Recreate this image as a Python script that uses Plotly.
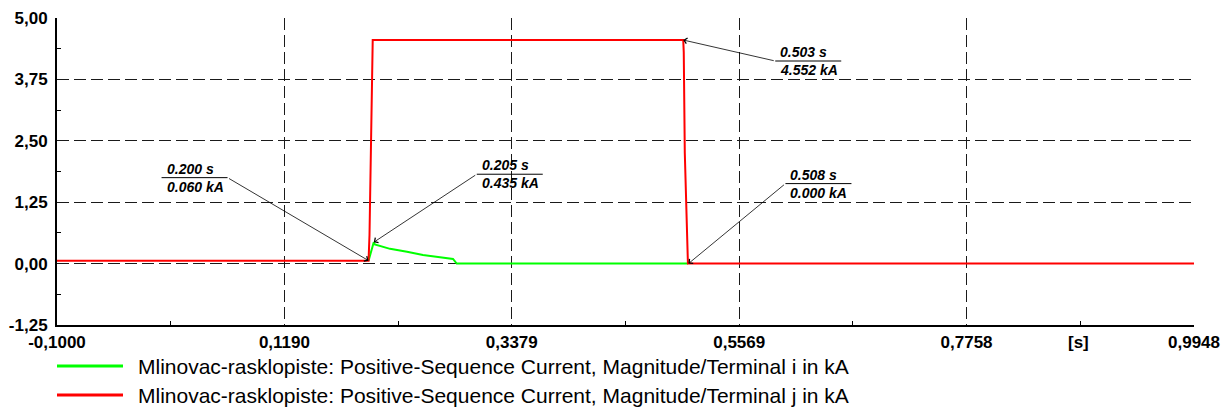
import plotly.graph_objects as go

# ---------------- data ----------------
red_name = "Mlinovac-rasklopiste: Positive-Sequence Current, Magnitude/Terminal j in kA"
green_name = "Mlinovac-rasklopiste: Positive-Sequence Current, Magnitude/Terminal i in kA"

red_t = [-0.1000, 0.2000, 0.2009, 0.2028, 0.2040, 0.5030, 0.5035, 0.5045, 0.5075, 0.9948]
red_v = [0.060, 0.060, 0.580, 3.600, 4.552, 4.552, 4.300, 2.250, 0.000, 0.000]

green_t = [0.2000, 0.2050, 0.2060, 0.2207, 0.2370, 0.2524, 0.2688, 0.2813, 0.2849, 0.5075]
green_v = [0.060, 0.435, 0.390, 0.300, 0.240, 0.175, 0.128, 0.094, 0.000, 0.000]

x_ticks = [-0.1000, 0.1190, 0.3379, 0.5569, 0.7758, 0.9948]
x_ticktext = ["-0,1000", "0,1190", "0,3379", "0,5569", "0,7758", "0,9948"]
y_ticks = [-1.25, 0.00, 1.25, 2.50, 3.75, 5.00]
y_ticktext = ["-1,25", "0,00", "1,25", "2,50", "3,75", "5,00"]

mark_t = [0.200, 0.205, 0.503, 0.508]
mark_v = [0.060, 0.435, 4.552, 0.000]

# ---------------- layout helpers ----------------
OFF = 8                      # page body margin of the html page
WIN_W, WIN_H = 1232, 412
PL, PR, PT, PB = 57, 1194, 18, 325   # plot area in window pixels
W, H = WIN_W - OFF, WIN_H - OFF
ML, MT = PL - OFF, PT - OFF
MR, MB = W + OFF - PR, H + OFF - PB
PW, PH = PR - PL, PB - PT


def px_x(px):
    return (px - PL) / PW


def px_y(py):
    return (PB - py) / PH


# leader tail offsets (pixels from the marked point, screen y down) and side of label
label_ax = [-141, 103, 92, 97]
label_ay = [-83, -68, 21, -80]
label_side = [-1, 1, 1, 1]
UL = 66

FONT = "Arial, Liberation Sans, sans-serif"

fig = go.Figure()
fig.add_trace(go.Scatter(x=green_t, y=green_v, mode="lines", name=green_name,
                         line=dict(color="#00FF00", width=2), showlegend=False))
fig.add_trace(go.Scatter(x=red_t, y=red_v, mode="lines", name=red_name,
                         line=dict(color="#FF0000", width=2), showlegend=False))

x_minor = [(a + b) / 2 for a, b in zip(x_ticks[:-1], x_ticks[1:])]
y_minor = [(a + b) / 2 for a, b in zip(y_ticks[:-1], y_ticks[1:])]

grid = dict(showgrid=True, gridcolor="#1a1a1a", gridwidth=1, griddash="12px,5px")
tickfont = dict(family=FONT, size=17, color="black", weight="bold")

fig.update_xaxes(range=[x_ticks[0], x_ticks[-1]], tickmode="array", tickvals=x_ticks,
                 ticktext=x_ticktext, ticks="", showline=True, linecolor="black",
                 linewidth=2, zeroline=False, tickfont=tickfont, ticklabelstandoff=1,
                 minor=dict(tickmode="array", tickvals=x_minor, ticks="inside",
                            ticklen=4, tickcolor="black", tickwidth=1, showgrid=False),
                 **grid)
fig.update_yaxes(range=[y_ticks[0], y_ticks[-1]], tickmode="array", tickvals=y_ticks,
                 ticktext=y_ticktext, ticks="", showline=True, linecolor="black",
                 linewidth=2, zeroline=False, tickfont=tickfont, ticklabelstandoff=4,
                 minor=dict(tickmode="array", tickvals=y_minor, ticks="inside",
                            ticklen=4, tickcolor="black", tickwidth=1, showgrid=False),
                 **grid)

annotations = []
shapes = []
for t, v, ax, ay, side in zip(mark_t, mark_v, label_ax, label_ay, label_side):
    annotations.append(dict(x=t, y=v, xref="x", yref="y", ax=ax, ay=ay,
                            axref="pixel", ayref="pixel", text="", showarrow=True,
                            arrowhead=4, arrowsize=1.4, arrowwidth=0.8,
                            arrowcolor="black"))
    x0 = ax if side > 0 else ax - UL
    x1 = x0 + UL
    shapes.append(dict(type="line", xref="x", yref="y", xsizemode="pixel",
                       ysizemode="pixel", xanchor=t, yanchor=v,
                       x0=x0, x1=x1, y0=-ay, y1=-ay,
                       line=dict(color="black", width=1)))
    annotations.append(dict(x=t, y=v, xref="x", yref="y", showarrow=False,
                            xanchor="left", yanchor="middle",
                            xshift=x0 + 3, yshift=-ay + 9,
                            text=f"<b><i>{t:.3f} s</i></b>",
                            font=dict(family=FONT, size=14, color="black")))
    annotations.append(dict(x=t, y=v, xref="x", yref="y", showarrow=False,
                            xanchor="left", yanchor="middle",
                            xshift=x0 + 3, yshift=-ay - 9,
                            text=f"<b><i>{v:.3f} kA</i></b>",
                            font=dict(family=FONT, size=14, color="black")))

# axis unit label
annotations.append(dict(x=px_x(1078), y=px_y(342), xref="paper", yref="paper",
                        xanchor="center", yanchor="middle", showarrow=False,
                        text="<b>[s]</b>",
                        font=dict(family=FONT, size=17, color="black")))

# legend drawn below the plot
legend_rows = [(green_name, "#00FF00", 366), (red_name, "#FF0000", 395)]
for name, color, py in legend_rows:
    yp = px_y(py)
    shapes.append(dict(type="line", xref="paper", yref="paper",
                       x0=px_x(57), x1=px_x(123), y0=yp, y1=yp,
                       line=dict(color=color, width=3)))
    annotations.append(dict(x=px_x(136), y=yp, xref="paper", yref="paper",
                            xanchor="left", yanchor="middle", showarrow=False,
                            text=name, font=dict(family=FONT, size=21, color="black")))

fig.update_layout(
    width=W, height=H,
    margin=dict(l=ML, r=MR, t=MT, b=MB, autoexpand=False),
    paper_bgcolor="white", plot_bgcolor="white",
    showlegend=False,
    annotations=annotations, shapes=shapes,
)

fig.write_html("out.html")
